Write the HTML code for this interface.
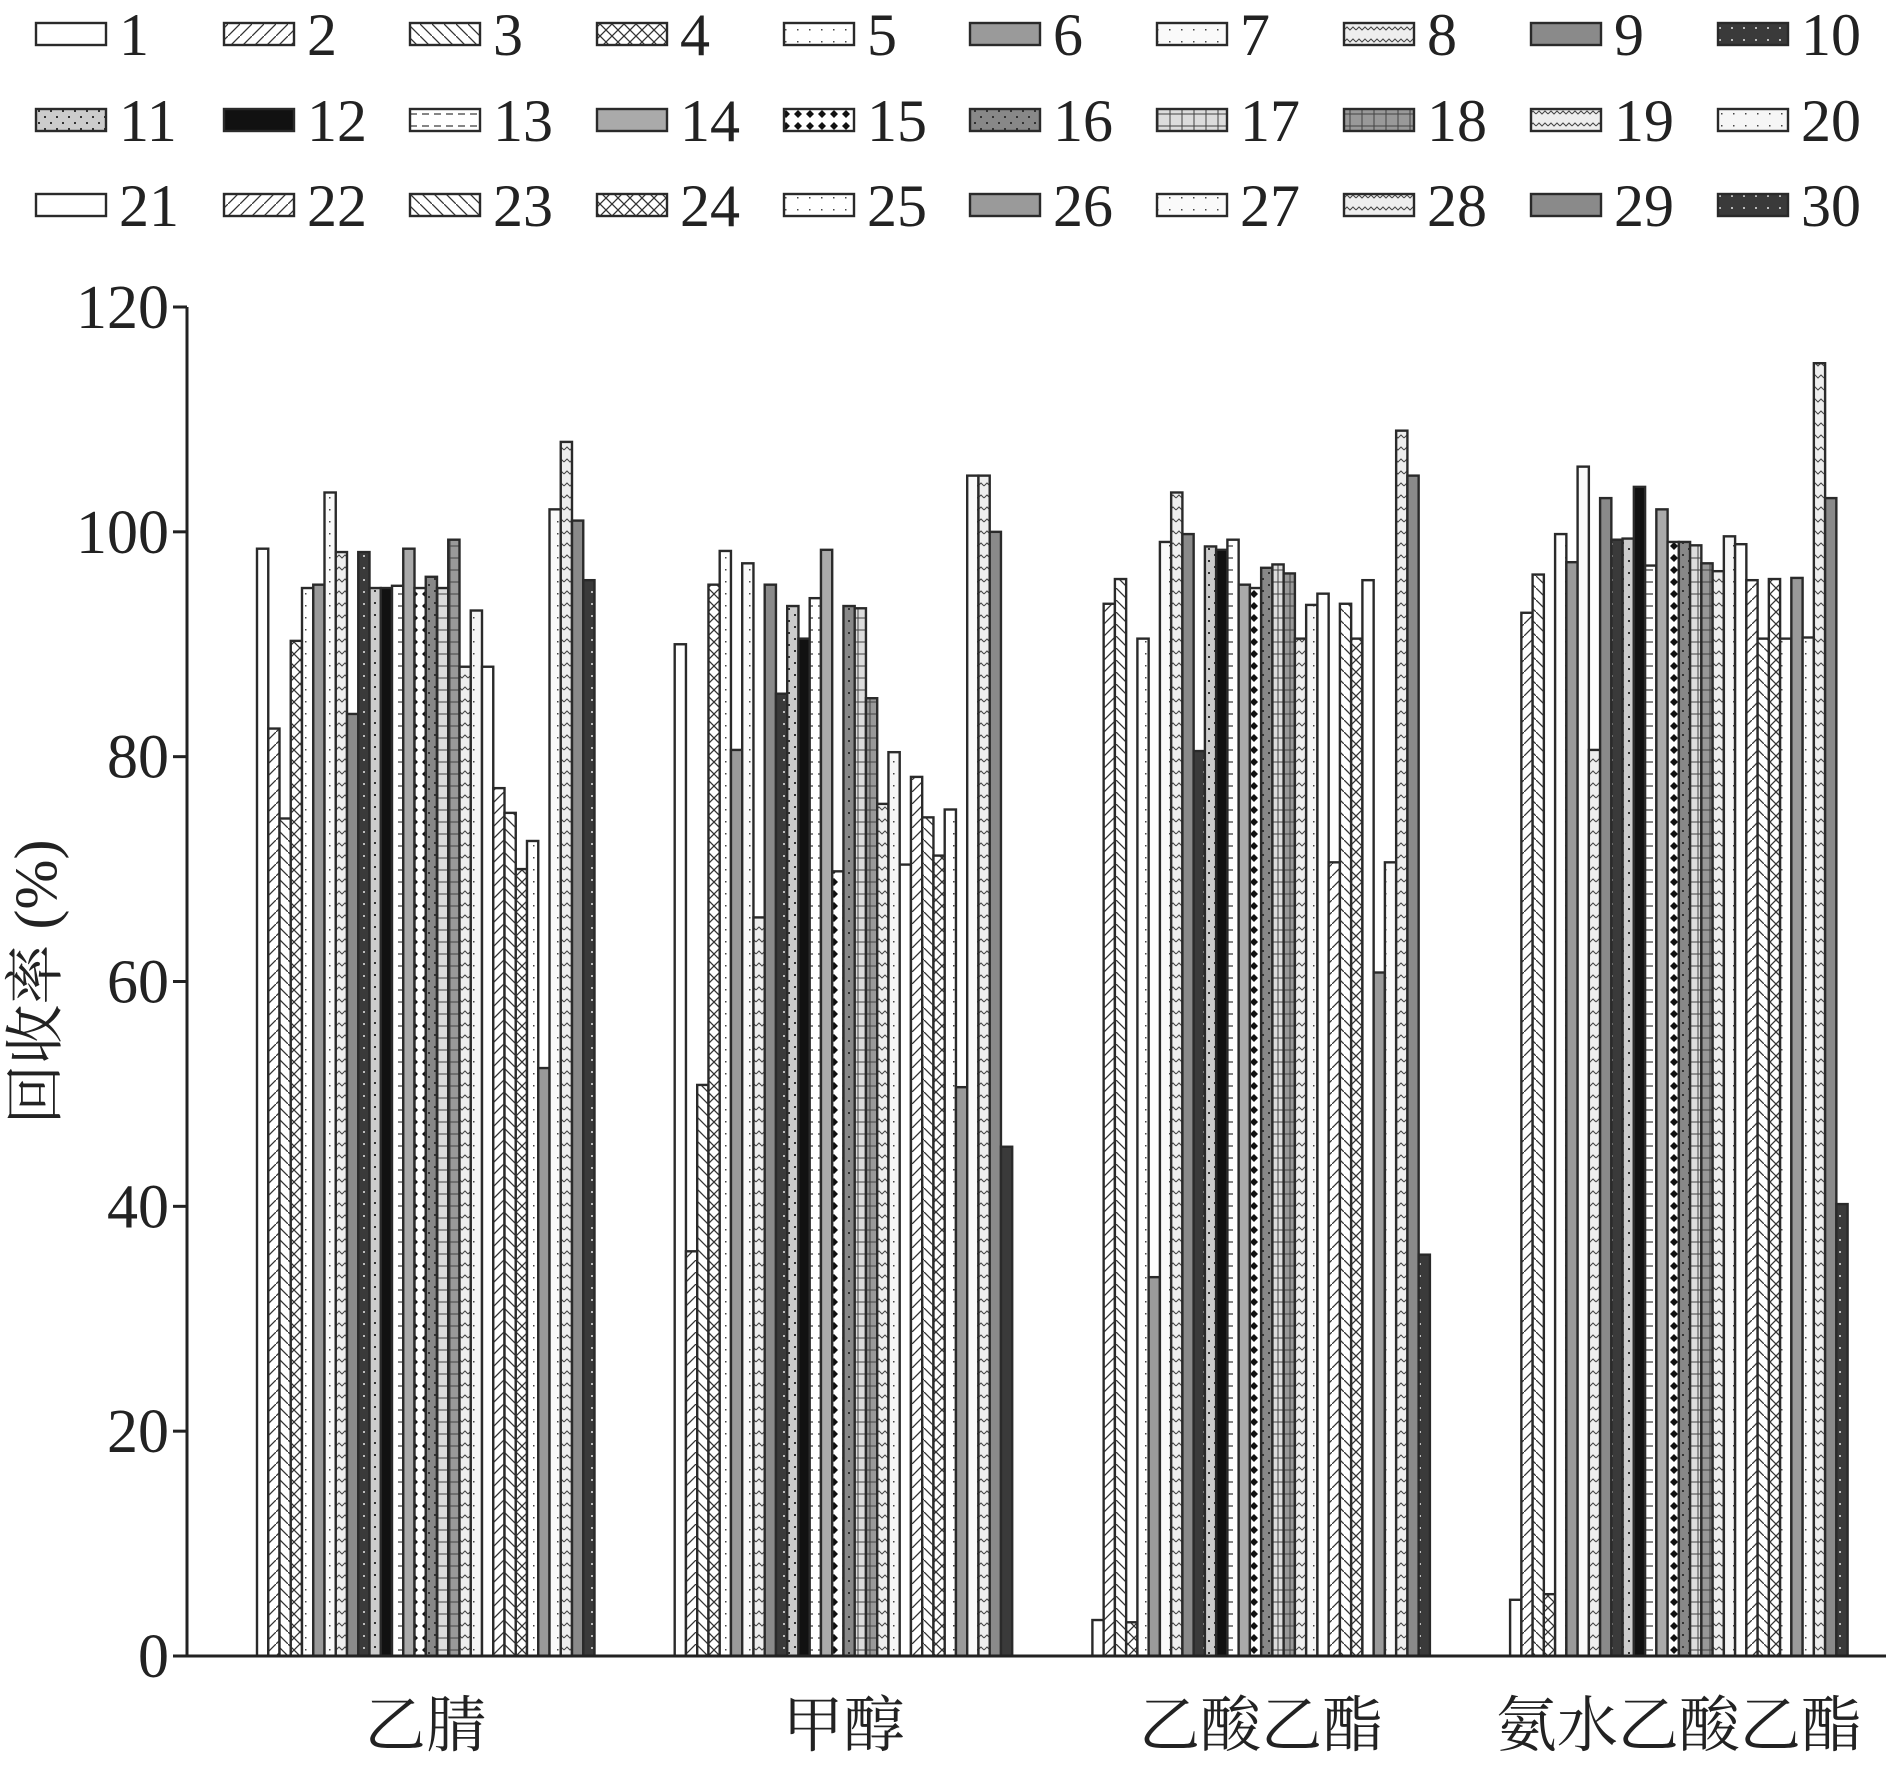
<!DOCTYPE html>
<html><head><meta charset="utf-8"><style>
html,body{margin:0;padding:0;background:#fff}
svg text{font-family:"Liberation Serif","Noto Serif CJK SC",serif;fill:#222}
</style></head><body>
<svg id="chart" width="1890" height="1762" viewBox="0 0 1890 1762" xmlns="http://www.w3.org/2000/svg">
<defs id="defs"></defs>
<g id="legend"></g>
<g id="plot"></g>
<g id="axes"></g>
</svg>
<script>
const categories = ["乙腈","甲醇","乙酸乙酯","氨水乙酸乙酯"];
const seriesNames = ["1","2","3","4","5","6","7","8","9","10","11","12","13","14","15","16","17","18","19","20","21","22","23","24","25","26","27","28","29","30"];
const g1 = [98.5,82.5,74.5,90.3,95,95.3,103.5,98.2,83.8,98.2,95,95,95.2,98.5,95,96,95,99.3,88,93,88,77.2,75,70,72.5,52.3,102,108,101,95.7];
const g2 = [90,36,50.8,95.3,98.3,80.6,97.2,65.7,95.3,85.6,93.4,90.5,94.1,98.4,69.8,93.4,93.2,85.2,75.8,80.4,70.4,78.2,74.6,71.2,75.3,50.6,105,105,100,45.3];
const g3 = [3.2,93.6,95.8,3,90.5,33.7,99.1,103.5,99.8,80.5,98.7,98.4,99.3,95.3,95,96.8,97.1,96.3,90.5,93.5,94.5,70.6,93.6,90.5,95.7,60.8,70.6,109,105,35.7];
const g4 = [5,92.8,96.2,5.5,99.8,97.3,105.8,80.6,103,99.3,99.4,104,97,102,99.1,99.1,98.8,97.2,96.5,99.6,98.9,95.7,90.5,95.8,90.5,95.9,90.6,115,103,40.2];
const groupValues = [g1,g2,g3,g4];
const yTicks = [0,20,40,60,80,100,120];

const NS="http://www.w3.org/2000/svg";
function mk(tag,attrs,parent){const e=document.createElementNS(NS,tag);for(const k in attrs)e.setAttribute(k,attrs[k]);if(parent)parent.appendChild(e);return e;}
const X0=187, X1=1886, Y0=1656, YTOP=307;
function y(v){return Y0-(v/120)*(Y0-YTOP);}
const groupStart=257, groupStep=417.7, barW=11.25;
function xBar(gi,si){return groupStart+gi*groupStep+si*barW;}

const defs=document.getElementById('defs');
const patKinds=['white','fwd','back','cross','dotsL','gray','dotsL2','wave','grayD','dark','dotsM','black','dash','grayM','diamond','dotsD','weave','grid','zig','dotsL3'];
function makePattern(i){
  const kind=patKinds[i%20];
  const p=mk('pattern',{id:'p'+i,patternUnits:'userSpaceOnUse',width:12,height:12},defs);
  const bg={white:'#fff',fwd:'#fff',back:'#fff',cross:'#fff',dotsL:'#fff',gray:'#9a9a9a',dotsL2:'#fafafa',wave:'#eee',grayD:'#8a8a8a',dark:'#3a3a3a',dotsM:'#ccc',black:'#111',dash:'#fff',grayM:'#aaa',diamond:'#fff',dotsD:'#888',weave:'#ddd',grid:'#999',zig:'#eee',dotsL3:'#f6f6f6'}[kind];
  mk('rect',{width:12,height:12,fill:bg},p);
  if(kind==='fwd')mk('path',{d:'M0 12 L12 0',stroke:'#333','stroke-width':1.3},p);
  if(kind==='back')mk('path',{d:'M0 0 L12 12',stroke:'#333','stroke-width':1.3},p);
  if(kind==='cross')mk('path',{d:'M0 0 L12 12 M0 12 L12 0',stroke:'#333','stroke-width':1.3},p);
  if(kind==='dotsL'||kind==='dotsL2'||kind==='dotsL3')mk('rect',{x:5,y:5,width:1.5,height:1.5,fill:'#444'},p);
  if(kind==='dotsM'||kind==='dotsD'){mk('rect',{x:2,y:2,width:2,height:2,fill:'#333'},p);mk('rect',{x:8,y:8,width:2,height:2,fill:'#333'},p);}
  if(kind==='wave'||kind==='zig')mk('path',{d:'M0 6 L3 3 L6 6 L9 3 L12 6',stroke:'#444','stroke-width':1,fill:'none'},p);
  if(kind==='dash')mk('path',{d:'M2 6 L9 6',stroke:'#333','stroke-width':1.2},p);
  if(kind==='diamond')mk('path',{d:'M6 2 L10 6 L6 10 L2 6 Z',fill:'#111'},p);
  if(kind==='grid'||kind==='weave')mk('path',{d:'M0 6 L12 6 M6 0 L6 12',stroke:'#444','stroke-width':1},p);
  if(kind==='dark')mk('rect',{x:3,y:3,width:2,height:2,fill:'#bbb'},p);
}
for(let i=0;i<30;i++)makePattern(i);

const plot=document.getElementById('plot');
groupValues.forEach((vals,gi)=>{
  vals.forEach((v,si)=>{
    const r=mk('rect',{x:xBar(gi,si),y:y(v),width:barW,height:Y0-y(v),fill:'url(#p'+si+')',stroke:'#2a2a2a','stroke-width':2.4},plot);
    
    
  });
});

const axes=document.getElementById('axes');
mk('line',{x1:X0,y1:YTOP,x2:X0,y2:Y0,stroke:'#222','stroke-width':3},axes);
mk('line',{x1:X0-1.5,y1:Y0,x2:X1,y2:Y0,stroke:'#222','stroke-width':3},axes);
yTicks.forEach(t=>{
  mk('line',{x1:X0-14,y1:y(t),x2:X0,y2:y(t),stroke:'#222','stroke-width':3},axes);
  const tx=mk('text',{x:X0-18,y:y(t)+21,'text-anchor':'end','font-size':62},axes);
  tx.textContent=t;
  
  
});
categories.forEach((c,gi)=>{
  const cx=xBar(gi,0)+15*barW;
  const tx=mk('text',{x:cx,y:1746,'text-anchor':'middle','font-size':61},axes);
  tx.textContent=c;
  
  
});
const yt=mk('text',{x:0,y:0,'text-anchor':'middle','font-size':60,transform:'translate(56,982) rotate(-90)'},axes);
yt.textContent='回收率 (%)';



const legend=document.getElementById('legend');
const colX=[36,224,410,597,784,970,1157,1344,1531,1718];
const rowY=[34,120,205];
seriesNames.forEach((n,i)=>{
  const col=i%10,row=Math.floor(i/10);
  const sw=mk('rect',{x:colX[col],y:rowY[row]-11,width:70,height:22,fill:'url(#p'+i+')',stroke:'#2a2a2a','stroke-width':2.4},legend);
  
  
  const tx=mk('text',{x:colX[col]+83,y:rowY[row]+21,'font-size':60},legend);
  tx.textContent=n;
  
  
});
</script>
</body></html>
